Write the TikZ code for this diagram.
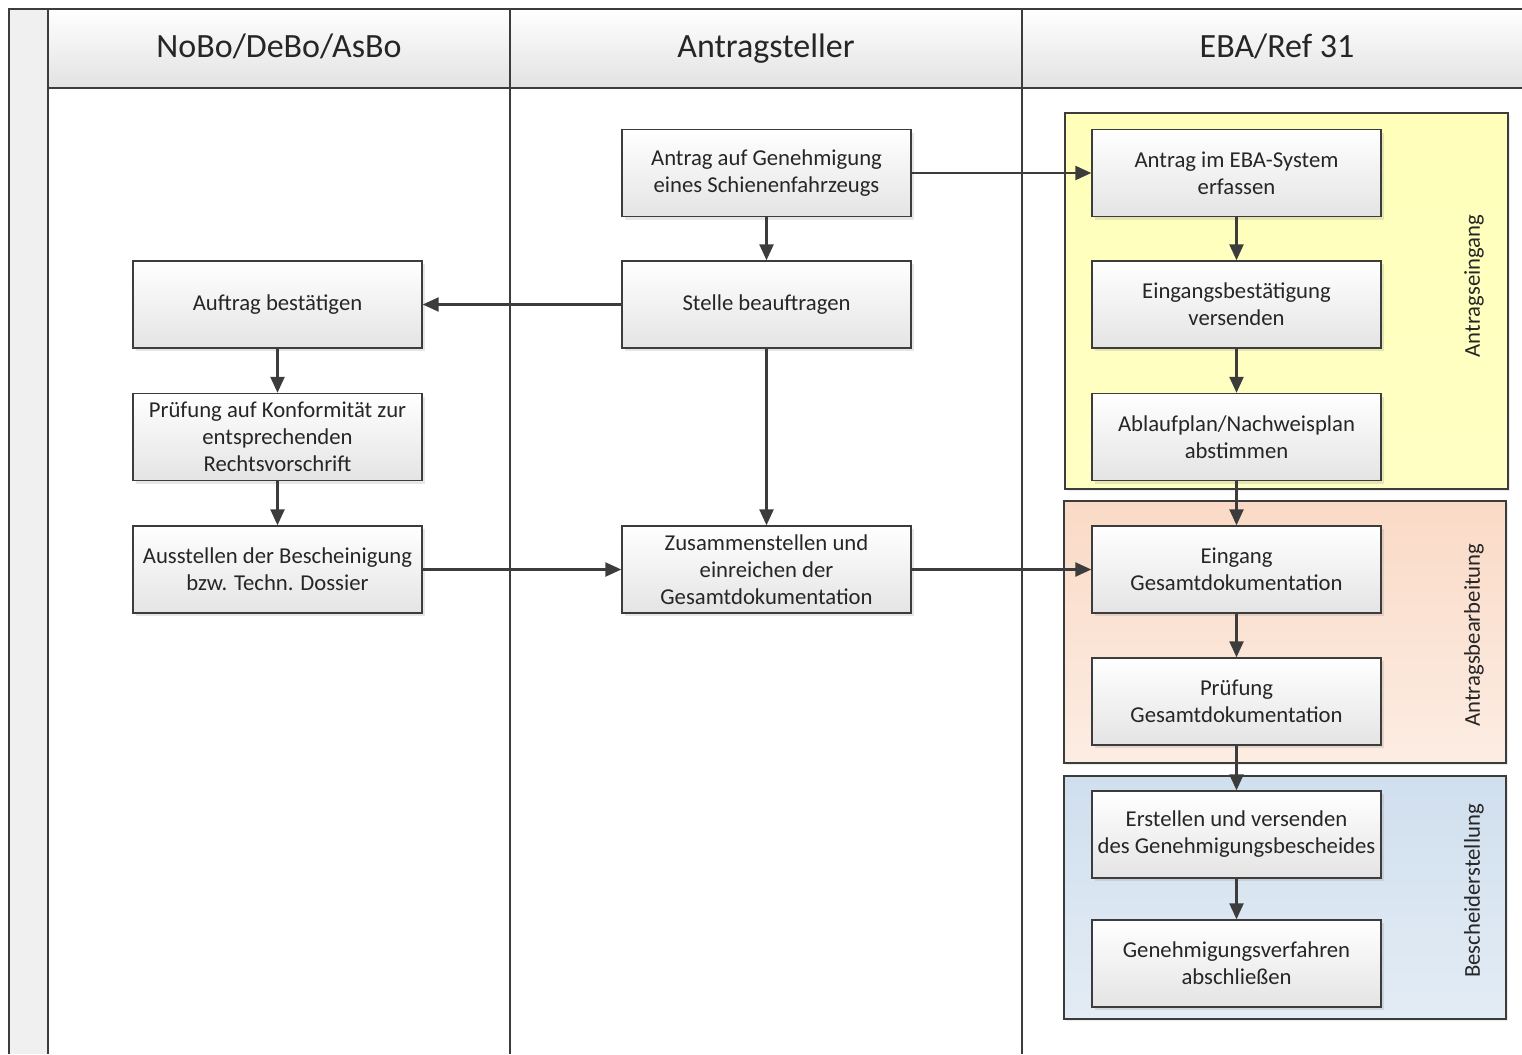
\documentclass[tikz,border=0pt]{standalone}
\usepackage{fontspec}
\setmainfont{Carlito}
\usetikzlibrary{arrows.meta,shadows}
\definecolor{linegray}{HTML}{3C3C3C}
\definecolor{textgray}{HTML}{262626}
\definecolor{headgray}{HTML}{E2E2E2}
\definecolor{stripgray}{HTML}{F0F0F0}
\definecolor{boxgray}{HTML}{E4E4E4}
\definecolor{eingangyellow}{HTML}{FFFFBA}
\definecolor{bearbpeach}{HTML}{FADAC6}
\definecolor{bearbpeachlight}{HTML}{FCEDE3}
\definecolor{bescheidblue}{HTML}{D0DFEE}
\definecolor{bescheidbluelight}{HTML}{E3ECF5}
\tikzset{
  frame/.style={draw=linegray, line width=1.4pt},
  lane/.style={text=textgray, anchor=base, font=\fontsize{34}{40}\selectfont},
  process/.style={draw=linegray, line width=1.4pt, shading=axis,
    top color=white, bottom color=boxgray, minimum width=289pt,
    minimum height=87pt, inner sep=0pt, align=center, text=textgray,
    font=\fontsize{22.7}{27}\selectfont,
    drop shadow={opacity=0.2, shadow xshift=3pt, shadow yshift=-3pt}},
  phase/.style={draw=linegray, line width=1.4pt,
    drop shadow={opacity=0.15, shadow xshift=2pt, shadow yshift=-2pt}},
  phaselabel/.style={rotate=90, text=textgray, font=\fontsize{22.7}{27}\selectfont},
  flow/.style={draw=linegray, line width=2.4pt, -{Triangle[length=16pt,width=14pt]}}
}
\begin{document}
\begin{tikzpicture}[x=1pt, y=-1pt]
  \useasboundingbox (0,0) rectangle (1522,1054);
  % swimlanes
  \fill[stripgray] (9,9) rectangle (48,1054);
  \shade[top color=white, bottom color=headgray] (48,9) rectangle (1522,88);
  \draw[frame] (9,1054) -- (9,9) -- (1522,9);
  \draw[frame] (48,88) -- (1522,88);
  \foreach \x in {48,510,1022}
    \draw[frame] (\x,9) -- (\x,1054);
  \node[lane] (nobo) at (279,58) {NoBo/DeBo/AsBo};
  \node[lane] (antragsteller) at (766,58) {Antragsteller};
  \node[lane] (eba) at (1277,58) {EBA/Ref 31};
  % phases
  \draw[phase, top color=eingangyellow, bottom color=eingangyellow!85!white]
    (1065,113) rectangle (1508,489);
  \draw[phase, top color=bearbpeach, bottom color=bearbpeachlight]
    (1064,501) rectangle (1506,763);
  \draw[phase, top color=bescheidblue, bottom color=bescheidbluelight]
    (1064,776) rectangle (1506,1019);
  \node[phaselabel] (eingang) at (1474,286) {Antragseingang};
  \node[phaselabel] (bearb) at (1474,635) {Antragsbearbeitung};
  \node[phaselabel] (bescheid) at (1474,891) {Bescheiderstellung};
  % steps
  \node[process] (a1) at (277.5,304.5) {Auftrag bestätigen};
  \node[process] (a2) at (277.5,437) {Prüfung auf Konformität zur\\entsprechenden\\Rechtsvorschrift};
  \node[process] (a3) at (277.5,569.5) {Ausstellen der Bescheinigung\\bzw. Techn. Dossier};
  \node[process] (b1) at (766.5,173) {Antrag auf Genehmigung\\eines Schienenfahrzeugs};
  \node[process] (b2) at (766.5,304.5) {Stelle beauftragen};
  \node[process] (b3) at (766.5,569.5) {Zusammenstellen und\\einreichen der\\Gesamtdokumentation};
  \node[process] (c1) at (1236.5,173) {Antrag im EBA-System\\erfassen};
  \node[process] (c2) at (1236.5,304.5) {Eingangsbestätigung\\versenden};
  \node[process] (c3) at (1236.5,437) {Ablaufplan/Nachweisplan\\abstimmen};
  \node[process] (c4) at (1236.5,569.5) {Eingang\\Gesamtdokumentation};
  \node[process] (c5) at (1236.5,701.5) {Prüfung\\Gesamtdokumentation};
  \node[process] (c6) at (1236.5,834.5) {Erstellen und versenden\\des Genehmigungsbescheides};
  \node[process] (c7) at (1236.5,963.5) {Genehmigungsverfahren\\abschließen};
  % flows
  \begin{scope}[flow]
    \draw (b1) to (c1);
    \draw (b1) to (b2);
    \draw (b2) to (a1);
    \draw (b2) to (b3);
    \draw (a1) to (a2);
    \draw (a2) to (a3);
    \draw (a3) to (b3);
    \draw (b3) to (c4);
    \draw (c1) to (c2);
    \draw (c2) to (c3);
    \draw (c3) to (c4);
    \draw (c4) to (c5);
    \draw (c5) to (c6);
    \draw (c6) to (c7);
  \end{scope}
\end{tikzpicture}
\end{document}
